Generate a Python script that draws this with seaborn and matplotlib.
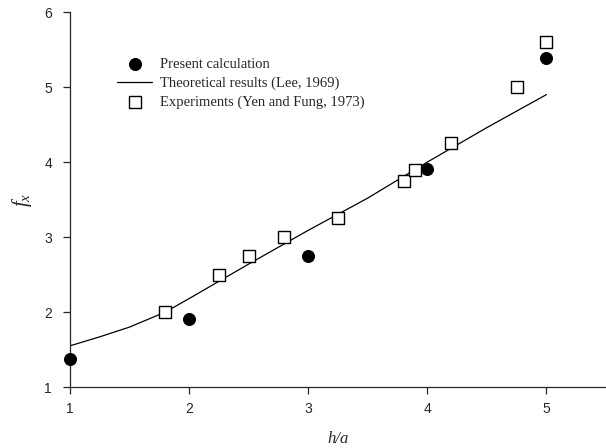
import matplotlib
matplotlib.use("Agg")
import matplotlib.pyplot as plt
import seaborn as sns
import pandas as pd

sns.set_style("ticks")
plt.rcParams['font.family'] = ['Liberation Sans', 'DejaVu Sans']
plt.rcParams['mathtext.fontset'] = 'custom'
plt.rcParams['mathtext.it'] = 'Liberation Serif:italic'
plt.rcParams['mathtext.rm'] = 'Liberation Serif'

# Present calculation
calc_x = [1, 2, 3, 4, 5]
calc_y = [1.37, 1.91, 2.75, 3.91, 5.39]

# Theoretical results (Lee, 1969)
theory_x = [1.0, 1.25, 1.5, 1.8, 2.0, 2.5, 3.0, 3.5, 4.0, 4.5, 5.0]
theory_y = [1.55, 1.67, 1.80, 2.0, 2.18, 2.64, 3.09, 3.52, 4.0, 4.46, 4.90]

# Experiments (Yen and Fung, 1973)
exp_x = [1.8, 2.25, 2.5, 2.8, 3.25, 3.8, 3.9, 4.2, 4.75, 5.0]
exp_y = [2.0, 2.5, 2.75, 3.0, 3.25, 3.75, 3.9, 4.25, 5.0, 5.6]

theory = pd.DataFrame({'h': theory_x, 'f': theory_y})
calc = pd.DataFrame({'h': calc_x, 'f': calc_y})
exp = pd.DataFrame({'h': exp_x, 'f': exp_y})

fig = plt.figure(figsize=(6.06, 4.48), dpi=100)
ax = fig.add_axes([0.1155, 0.136, 0.8845, 0.837])

sns.lineplot(data=theory, x='h', y='f', color='black', linewidth=0.9,
             ax=ax, label='Theoretical results (Lee, 1969)', zorder=2)
sns.scatterplot(data=exp, x='h', y='f', marker='s', s=68, facecolor='white',
                edgecolor='black', linewidth=1.0, ax=ax,
                label='Experiments (Yen and Fung, 1973)', zorder=3, clip_on=False)
sns.scatterplot(data=calc, x='h', y='f', marker='o', s=75, color='black',
                edgecolor='black', ax=ax, label='Present calculation',
                zorder=4, clip_on=False)

ax.set_xlim(1, 5.5)
ax.set_ylim(1, 6)
ax.set_xticks([1, 2, 3, 4, 5])
ax.set_yticks([1, 2, 3, 4, 5, 6])
ax.tick_params(labelsize=10, length=5, width=0.9, direction='out')
ax.tick_params(axis='y', pad=8)
ax.tick_params(axis='x', pad=6)
for s in ['top', 'right']:
    ax.spines[s].set_visible(False)
for s in ['left', 'bottom']:
    ax.spines[s].set_linewidth(0.9)

ax.set_xlabel('h/a', fontfamily='Liberation Serif', fontstyle='italic',
              fontsize=12)
ax.set_ylabel('$f_x$', fontsize=15)
ax.xaxis.set_label_coords(0.50, -0.118)
ax.yaxis.set_label_coords(-0.068, 0.5)

h, l = ax.get_legend_handles_labels()
order = [2, 0, 1]
ax.legend([h[i] for i in order], [l[i] for i in order], loc='upper left',
          bbox_to_anchor=(0.064, 0.913), frameon=False,
          prop={'family': 'Liberation Serif', 'size': 10.5},
          handlelength=2.4, handletextpad=0.5, labelspacing=0.36)

plt.savefig('out.png', dpi=100)
